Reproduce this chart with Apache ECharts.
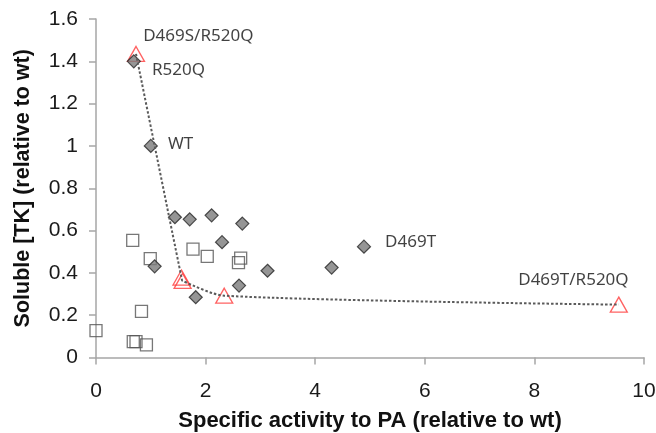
<!DOCTYPE html>
<html>
<head>
<meta charset="utf-8">
<script src="https://cdn.jsdelivr.net/npm/echarts@6/dist/echarts.min.js"></script>
<style>
  html, body { margin: 0; padding: 0; background: #fff; }
  #chart { width: 656px; height: 433px; }
</style>
</head>
<body>
<div id="chart"></div>
<script>
// 数据
var diamondPts = [
    [0.69, 1.40], [1.00, 1.00], [1.44, 0.663], [1.71, 0.653], [2.11, 0.672],
    [2.67, 0.633], [2.30, 0.545], [1.07, 0.431], [3.13, 0.41], [4.30, 0.425],
    [2.61, 0.34], [1.82, 0.285], [4.89, 0.524]
];
var diamondNames = ['R520Q', 'WT', '', '', '', '', '', '', '', '', '', '', 'D469T'];

var squarePts = [
    [0.67, 0.554], [0.99, 0.467], [1.77, 0.512], [2.03, 0.478], [2.64, 0.47],
    [2.60, 0.448], [0.83, 0.218], [0.00, 0.127], [0.68, 0.075], [0.73, 0.075],
    [0.92, 0.06]
];

var trianglePts = [[0.73, 1.435], [1.56, 0.378], [1.58, 0.362], [2.34, 0.292], [9.54, 0.25]];
var triangleNames = ['D469S/R520Q', '', '', '', 'D469T/R520Q'];

var xTicks = { min: 0, max: 10, interval: 2 };
var yTicks = { min: 0, max: 1.6, interval: 0.2 };

// 标签位置
var labelPlace = {
    'R520Q': { position: 'right', offset: [6, 9] },
    'WT': { position: 'right', offset: [5, -2] },
    'D469T': { position: 'right', offset: [9, -4] },
    'D469S/R520Q': { position: 'right', offset: [-7, -18] },
    'D469T/R520Q': { position: 'left', offset: [24, -24] }
};

var labelFont = { fontFamily: 'Noto Sans', fontSize: 17, color: '#111' };

var withLabels = function (pts, names) {
    return pts.map(function (p, i) {
        var item = { value: p, name: names[i] || '' };
        if (names[i]) {
            var lp = labelPlace[names[i]];
            item.label = Object.assign({
                show: true,
                formatter: names[i],
                position: lp.position,
                offset: lp.offset,
                distance: 5
            }, labelFont);
        }
        return item;
    });
};

var lineData = trianglePts.slice().sort(function (a, b) { return a[0] - b[0]; });

var chart = echarts.init(document.getElementById('chart'));

var axisCommon = {
    axisLine: { show: true, lineStyle: { color: '#a6a6a6', width: 1.5 } },
    axisTick: { show: true, inside: false, length: 7, lineStyle: { color: '#a6a6a6', width: 1.5 } },
    splitLine: { show: false },
    nameLocation: 'middle'
};
var tickFont = { fontFamily: 'Liberation Sans', fontSize: 21, color: '#1a1a1a' };

chart.setOption({
    animation: false,
    backgroundColor: '#fff',
    grid: { left: 96, right: 12, top: 19, bottom: 75.5, outerBoundsMode: 'none', containLabel: false },
    xAxis: Object.assign({}, axisCommon, {
        type: 'value',
        min: xTicks.min, max: xTicks.max, interval: xTicks.interval,
        name: 'Specific activity to PA (relative to wt)',
        nameGap: 52,
        nameTextStyle: { fontFamily: 'Liberation Sans', fontWeight: 'bold', fontSize: 22, color: '#111' },
        axisLabel: Object.assign({ margin: 23 }, tickFont)
    }),
    yAxis: Object.assign({}, axisCommon, {
        type: 'value',
        min: yTicks.min, max: yTicks.max, interval: yTicks.interval,
        name: 'Soluble [TK] (relative to wt)',
        nameGap: 62,
        nameTextStyle: { fontFamily: 'Liberation Sans', fontWeight: 'bold', fontSize: 21.5, color: '#111' },
        axisLabel: Object.assign({ margin: 18 }, tickFont)
    }),
    series: [
        {
            type: 'scatter',
            data: squarePts,
            symbol: 'rect',
            symbolSize: 12,
            itemStyle: { color: 'transparent', borderColor: '#555', borderWidth: 1.3 },
            z: 2
        },
        {
            type: 'scatter',
            data: withLabels(trianglePts, triangleNames),
            symbol: 'triangle',
            symbolSize: [17, 15],
            itemStyle: { color: 'transparent', borderColor: '#ff3b3b', borderWidth: 1.3 },
            z: 3
        },
        {
            type: 'scatter',
            data: withLabels(diamondPts, diamondNames),
            symbol: 'diamond',
            symbolSize: 13,
            itemStyle: { color: '#7a7a7a', borderColor: '#262626', borderWidth: 1.2 },
            z: 4
        },
        {
            type: 'line',
            data: lineData,
            smooth: 0.25,
            showSymbol: false,
            symbol: 'none',
            lineStyle: { color: '#5a5a5a', width: 2, type: [2.5, 2] },
            z: 5,
            silent: true
        }
    ]
});
</script>
</body>
</html>
